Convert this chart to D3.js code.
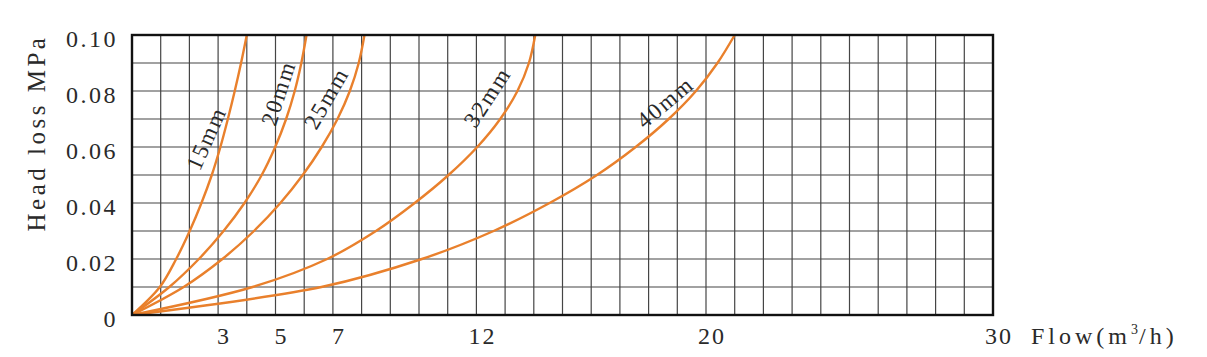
<!DOCTYPE html>
<html>
<head>
<meta charset="utf-8">
<script src="https://cdn.jsdelivr.net/npm/d3@7"></script>
<style>
  html, body { margin: 0; padding: 0; background: #ffffff; }
  svg { display: block; }
  text { font-family: "Liberation Serif", "Times New Roman", serif; fill: #2a2a2a; }
</style>
</head>
<body>
<svg id="chart" width="1207" height="357"></svg>
<script>
// ---- data ----
const headLoss = [0, 0.01, 0.02, 0.03, 0.04, 0.05, 0.06, 0.07, 0.08, 0.09, 0.10];
const flow15 = [0, 0.97, 1.54, 2.01, 2.42, 2.78, 3.08, 3.34, 3.58, 3.80, 4.0];
const flow20 = [0, 1.30, 2.33, 3.19, 3.92, 4.52, 4.99, 5.37, 5.67, 5.90, 6.08];
const flow25 = [0, 1.80, 3.15, 4.25, 5.17, 5.95, 6.61, 7.16, 7.59, 7.90, 8.10];
const flow32 = [0, 4.2, 6.8, 8.5, 9.85, 11.03, 12.03, 12.83, 13.43, 13.83, 14.05];
const flow40 = [0, 6.6, 10.1, 12.6, 14.55, 16.2, 17.55, 18.7, 19.65, 20.4, 21.0];
const seriesNames = ["15mm", "20mm", "25mm", "32mm", "40mm"];
const seriesFlows = [flow15, flow20, flow25, flow32, flow40];
const xTickValues = [3, 5, 7, 12, 20, 30];
const yTickValues = [0, 0.02, 0.04, 0.06, 0.08, 0.10];
const yTickLabels = ["0", "0.02", "0.04", "0.06", "0.08", "0.10"];
// label anchor (data units) for each curve name
const labelFlow = [2.58, 5.09, 6.76, 12.37, 18.57];
const labelLoss = [0.0632, 0.0793, 0.0775, 0.0779, 0.0761];

// ---- layout / style ----
const plot = { left: 132, right: 993, top: 35, bottom: 315 };
const labelAngles = [-66, -72, -60, -57, -40];
const curveColor = "#e9802c";

const svg = d3.select("#chart");
const x = d3.scaleLinear().domain([0, 30]).range([plot.left, plot.right]);
const y = d3.scaleLinear().domain([0, 0.1]).range([plot.bottom, plot.top]);

// grid
const grid = svg.append("g");
grid.selectAll("line.v").data(d3.range(1, 30)).enter().append("line")
  .attr("x1", d => x(d)).attr("x2", d => x(d))
  .attr("y1", plot.top).attr("y2", plot.bottom)
  .attr("stroke", "#454545").attr("stroke-width", 1.2);
grid.selectAll("line.h").data(d3.range(1, 10).map(i => i / 100)).enter().append("line")
  .attr("x1", plot.left).attr("x2", plot.right)
  .attr("y1", d => y(d)).attr("y2", d => y(d))
  .attr("stroke", "#454545").attr("stroke-width", 1.2);

// curves
svg.append("clipPath").attr("id", "clip").append("rect")
  .attr("x", plot.left).attr("y", plot.top - 1)
  .attr("width", plot.right - plot.left).attr("height", plot.bottom - plot.top + 1);
const line = d3.line().x(d => x(d[0])).y(d => y(d[1])).curve(d3.curveCatmullRom.alpha(0.5));
svg.append("g").attr("clip-path", "url(#clip)")
  .selectAll("path").data(seriesFlows).enter().append("path")
  .attr("d", f => line(f.map((v, i) => [v, headLoss[i]])))
  .attr("fill", "none").attr("stroke", curveColor).attr("stroke-width", 2.4);

// frame
svg.append("rect")
  .attr("x", plot.left).attr("y", plot.top)
  .attr("width", plot.right - plot.left).attr("height", plot.bottom - plot.top)
  .attr("fill", "none").attr("stroke", "#111").attr("stroke-width", 2.4);

// curve labels
svg.append("g").selectAll("text").data(seriesNames).enter().append("text")
  .attr("transform", (d, i) => `translate(${x(labelFlow[i])},${y(labelLoss[i])}) rotate(${labelAngles[i]})`)
  .attr("text-anchor", "middle").attr("dy", "0.35em")
  .style("font-size", "23px").style("letter-spacing", "2px")
  .text(d => d);

// y tick labels
svg.append("g").selectAll("text").data(yTickValues).enter().append("text")
  .attr("x", 118).attr("y", d => y(d) + 12)
  .attr("text-anchor", "end")
  .style("font-size", "24px").style("letter-spacing", "2.5px")
  .text((d, i) => yTickLabels[i]);

// x tick labels
svg.append("g").selectAll("text").data(xTickValues).enter().append("text")
  .attr("x", d => x(d) + 6).attr("y", 344)
  .attr("text-anchor", "middle")
  .style("font-size", "24px").style("letter-spacing", "2px")
  .text(d => d);

// axis titles
svg.append("text")
  .attr("transform", "translate(45,133) rotate(-90)")
  .attr("text-anchor", "middle")
  .style("font-size", "25px").style("letter-spacing", "3.5px")
  .text("Head loss MPa");

const xt = svg.append("text").attr("x", 1031).attr("y", 344)
  .style("font-size", "24px").style("letter-spacing", "4px");
xt.append("tspan").text("Flow(m");
xt.append("tspan").attr("dy", -10).style("font-size", "14px").style("letter-spacing", "1px").text("3");
xt.append("tspan").attr("dy", 10).text("/h)");
</script>
</body>
</html>
